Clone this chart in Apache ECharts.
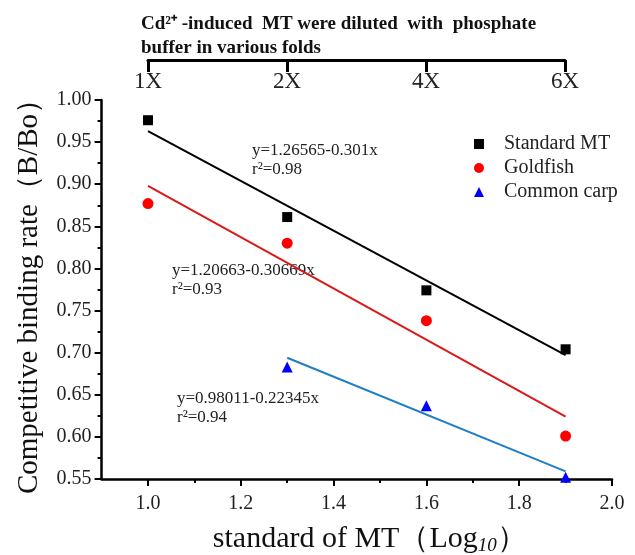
<!DOCTYPE html>
<html><head><meta charset="utf-8">
<script src="https://cdn.jsdelivr.net/npm/echarts@6/dist/echarts.min.js"></script>
<style>html,body{margin:0;padding:0;background:#fff}#c{width:635px;height:555px}</style>
</head><body><div id="c"></div>
<script>
// ---- data ----
const xStandard = [1.0, 1.3, 1.6, 1.9];
const yStandard = [0.976, 0.861, 0.774, 0.704];
const xGoldfish = [1.0, 1.3, 1.6, 1.9];
const yGoldfish = [0.877, 0.830, 0.738, 0.601];
const xCarp = [1.3, 1.6, 1.9];
const yCarp = [0.683, 0.637, 0.552];
const fitStandardX = [1.0, 1.9];
const fitStandardY = [0.963, 0.697];
const fitGoldfishX = [1.0, 1.9];
const fitGoldfishY = [0.898, 0.624];
const fitCarpX = [1.3, 1.9];
const fitCarpY = [0.694, 0.559];
const xTickValues = [1.0, 1.2, 1.4, 1.6, 1.8, 2.0];
const xMinorTickValues = [1.1, 1.3, 1.5, 1.7, 1.9];
const foldLabels = ['1X', '2X', '4X', '6X'];
const seriesNames = ['Standard MT', 'Goldfish', 'Common carp'];
const eqLines = ['y=1.26565-0.301x', 'y=1.20663-0.30669x', 'y=0.98011-0.22345x'];
const r2Lines = ['r²=0.98', 'r²=0.93', 'r²=0.94'];

const zip = (xs, ys) => xs.map((x, i) => [x, ys[i]]);
const SERIF = '"Liberation Serif","Times New Roman",serif';

const chart = echarts.init(document.getElementById('c'), null, {renderer: 'canvas'});

const eqPos = [[252, 141], [172, 261], [177, 389]];
const graphics = [];
eqLines.forEach((t, i) => {
  graphics.push({type: 'text', left: eqPos[i][0], top: eqPos[i][1],
    style: {text: t + '\n' + r2Lines[i], font: '17px ' + SERIF, fill: '#222', lineHeight: 19}});
});

chart.setOption({
  backgroundColor: '#fff',
  animation: false,
  title: {
    text: 'Cd²⁺ -induced  MT were diluted  with  phosphate\nbuffer in various folds',
    left: 136, top: 7,
    textStyle: {fontFamily: SERIF, fontWeight: 'bold', fontSize: 19, color: '#111', lineHeight: 24}
  },
  grid: [
    {left: 101.6, right: 23, top: 100, bottom: 76, containLabel: false, outerBoundsMode: 'none'},
    {left: 148, right: 70, top: 60, height: 10, containLabel: false, outerBoundsMode: 'none'}
  ],
  legend: {
    orient: 'vertical', left: 469, top: 129, itemWidth: 10, itemHeight: 10, itemGap: 4,
    textStyle: {fontFamily: SERIF, fontSize: 20, color: '#222', padding: [0, 0, 0, 15]},
    data: [
      {name: seriesNames[0], icon: 'rect'},
      {name: seriesNames[1], icon: 'circle'},
      {name: seriesNames[2], icon: 'triangle'}
    ]
  },
  xAxis: [
    {
      type: 'value', gridIndex: 0, min: 0.9, max: 2.0,
      splitLine: {show: false},
      axisLine: {lineStyle: {color: '#000', width: 2.5}},
      axisTick: {length: 7, lineStyle: {width: 2}, customValues: xTickValues},
      axisLabel: {customValues: xTickValues, formatter: v => v.toFixed(1), margin: 15,
        fontFamily: SERIF, fontSize: 20, color: '#222'},
      name: '{a|standard of MT（Log}{s|10}{a|）}',
      nameLocation: 'middle', nameGap: 45,
      nameTextStyle: {padding: [0, 0, 0, 26], rich: {
        a: {fontFamily: SERIF, fontSize: 30, color: '#111'},
        s: {fontFamily: SERIF, fontSize: 19, fontStyle: 'italic', color: '#111', padding: [12, 0, 0, 0]}
      }}
    },
    {
      type: 'value', gridIndex: 0, min: 0.9, max: 2.0, position: 'bottom',
      splitLine: {show: false},
      axisLine: {show: false},
      axisTick: {length: 4, lineStyle: {width: 2, color: '#000'}, customValues: xMinorTickValues},
      axisLabel: {show: false}
    },
    {
      type: 'category', gridIndex: 1, position: 'top', boundaryGap: false, data: foldLabels,
      axisLine: {onZero: false, lineStyle: {color: '#000', width: 3}},
      axisTick: {inside: true, length: 12, lineStyle: {width: 3, color: '#000'}},
      axisLabel: {inside: true, margin: 10, fontFamily: SERIF, fontSize: 23, color: '#222'}
    }
  ],
  yAxis: [
    {
      type: 'value', gridIndex: 0, min: 0.55, max: 1.0, interval: 0.05,
      splitLine: {show: false},
      axisLine: {show: true, lineStyle: {color: '#000', width: 2.5}},
      axisTick: {show: true, length: 7, lineStyle: {width: 2}},
      minorTick: {show: true, splitNumber: 2, length: 4, lineStyle: {width: 2, color: '#000'}},
      axisLabel: {formatter: v => v.toFixed(2), margin: 10, fontFamily: SERIF, fontSize: 20, color: '#222'},
      name: 'Competitive binding rate（B/Bo）',
      nameLocation: 'middle', nameGap: 58, nameRotate: 90,
      nameTextStyle: {fontFamily: SERIF, fontSize: 29, color: '#111'}
    },
    {type: 'value', gridIndex: 1, show: false}
  ],
  graphic: graphics,
  series: [
    {name: 'fit1', type: 'line', data: zip(fitStandardX, fitStandardY), symbol: 'none',
      lineStyle: {color: '#000', width: 2}, silent: true},
    {name: 'fit2', type: 'line', data: zip(fitGoldfishX, fitGoldfishY), symbol: 'none',
      lineStyle: {color: '#d91a1a', width: 2}, silent: true},
    {name: 'fit3', type: 'line', data: zip(fitCarpX, fitCarpY), symbol: 'none',
      lineStyle: {color: '#1f7fc4', width: 2}, silent: true},
    {name: seriesNames[0], type: 'scatter', data: zip(xStandard, yStandard), symbol: 'rect', symbolSize: 10,
      itemStyle: {color: '#000', opacity: 1}},
    {name: seriesNames[1], type: 'scatter', data: zip(xGoldfish, yGoldfish), symbol: 'circle', symbolSize: 11,
      itemStyle: {color: '#ff0000', opacity: 1}},
    {name: seriesNames[2], type: 'scatter', data: zip(xCarp, yCarp), symbol: 'triangle', symbolSize: 11,
      itemStyle: {color: '#0000ff', opacity: 1}}
  ]
});
</script>
</body></html>
